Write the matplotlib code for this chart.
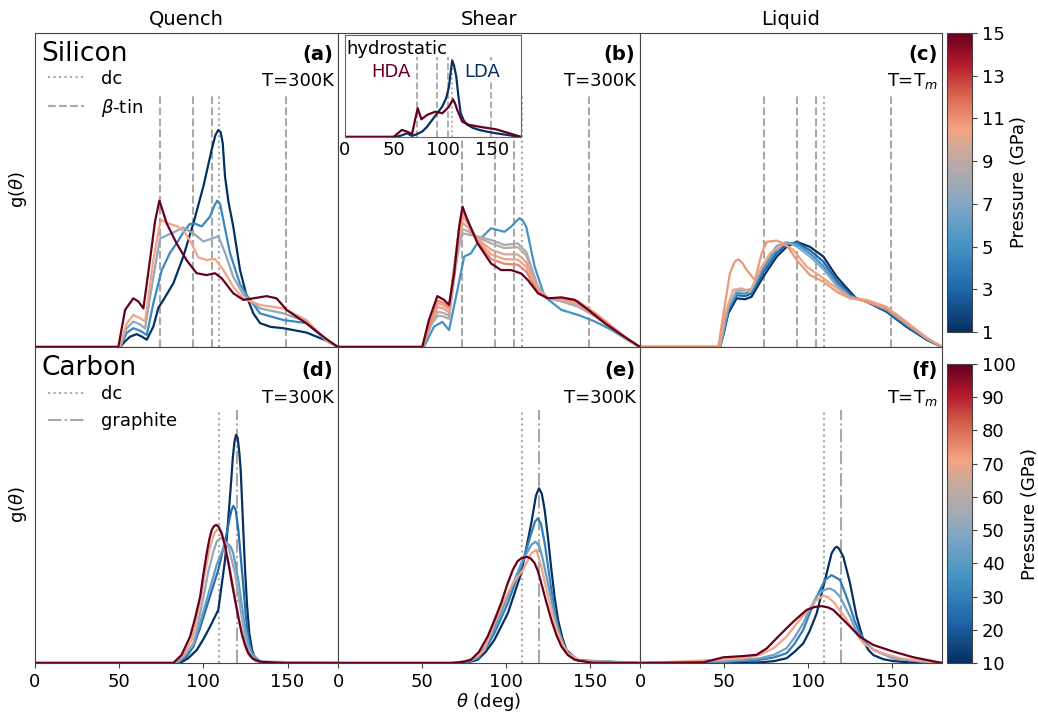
import matplotlib
matplotlib.use("Agg")
import matplotlib.pyplot as plt
from matplotlib.colors import LinearSegmentedColormap, Normalize
from matplotlib.cm import ScalarMappable
from matplotlib.lines import Line2D

# reference angles (deg)
btin_angles = [74.0, 93.8, 105.0, 149.4]
dc_angle = 109.47
graphite_angle = 120.0

# ---- Silicon, quench (a) ----
a_press = [1, 4.5, 7.5, 10.5, 15]
a1_th = [0, 50.5, 53.5, 56.5, 60.4, 63.5, 66.4, 70.3, 73.3, 76.3, 82.2, 88.1, 94.1, 100.0, 104.9, 107.2, 108.9, 110.3, 111.5, 112.9, 115.0, 117.8, 121.8, 125.8, 129.7, 133.7, 140.0, 147.5, 161.3, 173.2, 180]
a1_g = [0, 0, 0.018, 0.033, 0.041, 0.033, 0.023, 0.065, 0.125, 0.150, 0.203, 0.288, 0.394, 0.511, 0.627, 0.675, 0.691, 0.684, 0.650, 0.542, 0.460, 0.383, 0.245, 0.161, 0.107, 0.076, 0.064, 0.060, 0.046, 0.020, 0]
a4_th = [0, 50.5, 54.5, 58.4, 62.4, 66.4, 70.3, 75.3, 80.2, 84.1, 88.1, 92.0, 95.0, 99.0, 103.9, 106.5, 108.3, 110.0, 111.9, 115.8, 121.8, 125.8, 133.7, 147.5, 161.3, 173.2, 180]
a4_g = [0, 0, 0.045, 0.060, 0.052, 0.038, 0.139, 0.245, 0.300, 0.330, 0.365, 0.392, 0.393, 0.384, 0.415, 0.450, 0.466, 0.455, 0.404, 0.300, 0.200, 0.165, 0.107, 0.086, 0.076, 0.020, 0]
a8_th = [0, 50.5, 54.5, 58.4, 62.4, 65.4, 70.3, 74.3, 78.2, 84.1, 88.1, 94.1, 100.0, 104.9, 108.9, 112.9, 117.8, 123.8, 133.7, 147.5, 161.3, 173.2, 180]
a8_g = [0, 0, 0.060, 0.081, 0.072, 0.059, 0.223, 0.346, 0.355, 0.370, 0.380, 0.362, 0.336, 0.345, 0.353, 0.300, 0.223, 0.166, 0.123, 0.107, 0.081, 0.020, 0]
a11_th = [0, 50.0, 54.5, 58.4, 62.4, 65.4, 70.3, 74.3, 75.3, 80.2, 85.0, 89.0, 93.0, 97.0, 102.0, 107.0, 111.9, 117.8, 123.8, 133.7, 147.5, 161.3, 173.2, 180]
a11_g = [0, 0, 0.075, 0.102, 0.092, 0.081, 0.277, 0.395, 0.404, 0.392, 0.383, 0.365, 0.330, 0.285, 0.277, 0.280, 0.245, 0.192, 0.154, 0.134, 0.123, 0.086, 0.020, 0]
a15_th = [0, 49.5, 53.5, 58.4, 61.4, 64.4, 68.3, 71.3, 73.9, 75.5, 78.2, 84.1, 90.0, 96.0, 101.9, 106.9, 110.9, 117.8, 123.8, 129.7, 137.6, 143.5, 149.5, 161.3, 173.2, 180]
a15_g = [0, 0, 0.118, 0.155, 0.145, 0.123, 0.277, 0.400, 0.466, 0.440, 0.394, 0.330, 0.277, 0.235, 0.229, 0.235, 0.219, 0.171, 0.150, 0.155, 0.162, 0.155, 0.118, 0.075, 0.025, 0]

# ---- Silicon, shear (b) ----
b_press = [5, 8.3, 9.0, 9.8, 10.5, 11.2, 15]
b5_th = [0, 51.2, 57.2, 62.2, 66.2, 71.2, 75.2, 79.2, 84.2, 91.2, 99.2, 103.2, 106.5, 108.2, 110.2, 112.2, 117.2, 123.2, 133.2, 143.2, 153.2, 163.2, 172, 180]
b5_g = [0, 0, 0.065, 0.080, 0.054, 0.182, 0.288, 0.298, 0.341, 0.378, 0.367, 0.383, 0.402, 0.410, 0.402, 0.383, 0.256, 0.160, 0.118, 0.102, 0.081, 0.054, 0.024, 0]
b_mid_th = [0, 50.5, 55.5, 59.5, 63, 66.2, 70, 72.5, 74.5, 77.5, 83.2, 91.2, 99.2, 107.2, 112.2, 119.2, 125.2, 133.2, 143.2, 153.2, 163.2, 172, 180]
b8_g = [0, 0, 0.070, 0.100, 0.097, 0.090, 0.250, 0.330, 0.362, 0.358, 0.352, 0.341, 0.325, 0.330, 0.303, 0.192, 0.155, 0.145, 0.128, 0.097, 0.060, 0.025, 0]
b9_g = [0, 0, 0.075, 0.112, 0.108, 0.100, 0.260, 0.345, 0.375, 0.368, 0.350, 0.330, 0.315, 0.318, 0.292, 0.188, 0.155, 0.148, 0.131, 0.099, 0.061, 0.025, 0]
b10_g = [0, 0, 0.080, 0.128, 0.122, 0.110, 0.270, 0.360, 0.395, 0.380, 0.345, 0.310, 0.295, 0.295, 0.270, 0.182, 0.155, 0.152, 0.135, 0.101, 0.062, 0.026, 0]
b10b_g = [0, 0, 0.082, 0.140, 0.132, 0.120, 0.280, 0.375, 0.415, 0.392, 0.340, 0.295, 0.280, 0.278, 0.255, 0.177, 0.155, 0.155, 0.140, 0.105, 0.064, 0.027, 0]
b11_g = [0, 0, 0.084, 0.148, 0.140, 0.127, 0.290, 0.390, 0.430, 0.400, 0.335, 0.280, 0.265, 0.262, 0.240, 0.174, 0.155, 0.156, 0.145, 0.108, 0.066, 0.028, 0]
b15_th = [0, 50.2, 54.2, 59.2, 63.2, 66.2, 69.2, 72.2, 74.2, 77.2, 83.2, 91.2, 97.2, 103.2, 109.2, 113.2, 119.2, 125.2, 133.2, 141.2, 149.2, 159.2, 169.2, 180]
b15_g = [0, 0, 0.086, 0.162, 0.150, 0.134, 0.234, 0.383, 0.447, 0.404, 0.330, 0.266, 0.245, 0.245, 0.234, 0.213, 0.171, 0.155, 0.158, 0.150, 0.118, 0.075, 0.038, 0]

# inset of (b): hydrostatic HDA / LDA
lda_th = [0, 51.4, 58.3, 63.4, 68.6, 73.0, 78.9, 84.0, 89.2, 94.5, 99.5, 103.5, 106.4, 108.3, 109.7, 111.5, 113.8, 116.0, 118.3, 121.5, 125.2, 131.0, 137.2, 145.0, 154.3, 167.0, 180]
lda_g = [0, 0, 0.016, 0.036, 0.010, 0.025, 0.052, 0.100, 0.167, 0.235, 0.297, 0.380, 0.493, 0.650, 0.748, 0.700, 0.591, 0.400, 0.232, 0.160, 0.118, 0.088, 0.069, 0.052, 0.036, 0.018, 0]
hda_th = [0, 49.7, 54.0, 58.3, 63.4, 68.6, 72.0, 74.4, 76.5, 78.2, 84.0, 92.6, 99.5, 106.4, 110.4, 112.5, 114.8, 119.9, 126.8, 140.5, 154.3, 168.0, 180]
hda_g = [0, 0, 0.035, 0.069, 0.052, 0.029, 0.180, 0.281, 0.220, 0.173, 0.216, 0.248, 0.232, 0.297, 0.369, 0.330, 0.265, 0.150, 0.118, 0.095, 0.075, 0.036, 0]

# ---- Silicon, liquid (c) ----
c_press = [1, 3, 5, 7, 10.3, 10.8]
c_th = [0, 47.7, 50.0, 52.6, 57.6, 62.6, 66.5, 73.5, 81.5, 87.4, 93.4, 101.3, 109.3, 117.2, 125.2, 128.9, 135.1, 147.0, 158.9, 170.8, 180]
c1_g = [0, 0, 0.045, 0.107, 0.155, 0.152, 0.160, 0.224, 0.288, 0.319, 0.335, 0.319, 0.288, 0.224, 0.176, 0.155, 0.144, 0.112, 0.064, 0.023, 0]
c3_g = [0, 0, 0.050, 0.115, 0.165, 0.162, 0.170, 0.238, 0.300, 0.327, 0.333, 0.308, 0.272, 0.212, 0.168, 0.155, 0.144, 0.114, 0.067, 0.024, 0]
c5_g = [0, 0, 0.055, 0.122, 0.172, 0.170, 0.178, 0.250, 0.312, 0.332, 0.328, 0.298, 0.258, 0.202, 0.163, 0.155, 0.145, 0.118, 0.071, 0.026, 0]
c7_g = [0, 0, 0.058, 0.128, 0.180, 0.180, 0.185, 0.262, 0.322, 0.334, 0.320, 0.288, 0.248, 0.195, 0.160, 0.155, 0.146, 0.121, 0.074, 0.027, 0]
c10_th = [0, 47.2, 50.7, 55.6, 60.6, 65.5, 71.5, 77.5, 85.4, 91.4, 99.3, 109.3, 117.2, 125.2, 135.1, 147.0, 158.9, 170.8, 180]
c10_g = [0, 0, 0.107, 0.182, 0.187, 0.176, 0.245, 0.298, 0.328, 0.309, 0.256, 0.219, 0.187, 0.155, 0.150, 0.128, 0.080, 0.030, 0]
c11_th = [0, 46.7, 50.7, 53.6, 56.5, 58.6, 61.0, 63.6, 68.5, 72.5, 75.5, 81.5, 87.4, 93.4, 101.3, 109.3, 117.2, 123.2, 135.1, 147.0, 158.9, 170.8, 180]
c11_g = [0, 0, 0.139, 0.235, 0.272, 0.279, 0.268, 0.245, 0.213, 0.298, 0.335, 0.339, 0.325, 0.277, 0.229, 0.208, 0.176, 0.160, 0.144, 0.123, 0.075, 0.029, 0]

# ---- Carbon, quench (d) ----
d_press = [10, 25, 42, 52, 70, 100]
d10_th = [0, 86.2, 91.0, 96.1, 100.0, 104.0, 108.9, 112.9, 116.3, 117.5, 118.5, 119.4, 120.4, 121.4, 122.2, 123.5, 124.8, 126.0, 127.3, 129.0, 130.7, 134.0, 137.6, 180]
d10_g = [0, 0, 0.015, 0.041, 0.075, 0.115, 0.168, 0.326, 0.558, 0.650, 0.700, 0.722, 0.712, 0.665, 0.611, 0.450, 0.294, 0.180, 0.094, 0.040, 0.015, 0.004, 0, 0]
d25_th = [0, 85.0, 90.0, 94.1, 98.0, 102.0, 108.9, 113.9, 115.5, 116.8, 117.8, 119.2, 120.8, 122.3, 123.8, 125.2, 126.7, 128.5, 130.7, 136.0, 180]
d25_g = [0, 0, 0.020, 0.052, 0.110, 0.178, 0.295, 0.410, 0.455, 0.485, 0.497, 0.485, 0.421, 0.330, 0.242, 0.150, 0.083, 0.040, 0.015, 0, 0]
d42_th = [0, 84.0, 89.0, 94.1, 98.0, 102.0, 107.9, 111.9, 113.5, 114.9, 116.3, 117.8, 120.8, 122.8, 124.8, 126.8, 128.7, 134.0, 180]
d42_g = [0, 0, 0.022, 0.060, 0.125, 0.200, 0.310, 0.363, 0.373, 0.376, 0.368, 0.347, 0.263, 0.185, 0.115, 0.062, 0.031, 0.003, 0]
d52_th = [0, 83.0, 89.0, 94.1, 97.0, 100.1, 103.0, 106.0, 108.0, 110.0, 112.0, 114.9, 118.8, 120.8, 122.8, 124.7, 126.7, 131.0, 180]
d52_g = [0, 0, 0.025, 0.062, 0.130, 0.210, 0.290, 0.353, 0.385, 0.395, 0.392, 0.369, 0.284, 0.215, 0.146, 0.085, 0.041, 0.005, 0]
d70_th = [0, 82.5, 88.0, 93.1, 96.0, 99.0, 101.5, 104.0, 106.5, 108.3, 110.0, 111.9, 115.9, 119.8, 121.8, 123.8, 125.7, 127.7, 133.0, 180]
d70_g = [0, 0, 0.025, 0.073, 0.140, 0.221, 0.300, 0.368, 0.410, 0.423, 0.418, 0.389, 0.295, 0.178, 0.120, 0.073, 0.040, 0.020, 0.003, 0]
d100_th = [0, 82.2, 87.0, 92.1, 95.0, 98.1, 100.0, 102.0, 103.5, 105.0, 106.3, 107.6, 109.0, 110.9, 112.9, 114.9, 116.8, 118.8, 120.8, 122.8, 124.7, 126.7, 129.5, 133.7, 149.5, 180]
d100_g = [0, 0, 0.025, 0.083, 0.140, 0.210, 0.280, 0.347, 0.390, 0.421, 0.433, 0.437, 0.432, 0.411, 0.370, 0.316, 0.258, 0.200, 0.145, 0.094, 0.058, 0.031, 0.013, 0.004, 0, 0]

# ---- Carbon, shear (e) ----
e_press = [10, 30, 42, 70, 100]
e10_th = [0, 71.2, 78.0, 83.2, 88.0, 93.2, 101.2, 109.2, 115.2, 118.0, 119.8, 121.5, 123.2, 125.2, 127.2, 129.2, 131.2, 133.7, 136.2, 143.2, 180]
e10_g = [0, 0, 0.003, 0.010, 0.035, 0.073, 0.157, 0.284, 0.442, 0.530, 0.553, 0.535, 0.484, 0.395, 0.294, 0.205, 0.136, 0.080, 0.041, 0.007, 0]
e30_th = [0, 70, 78.0, 83.2, 88.0, 93.2, 101.2, 109.2, 115.2, 117.5, 119.2, 121.0, 123.2, 125.2, 127.2, 129.2, 131.2, 133.7, 136.2, 143.2, 180]
e30_g = [0, 0, 0.004, 0.014, 0.045, 0.094, 0.189, 0.305, 0.410, 0.448, 0.458, 0.440, 0.379, 0.305, 0.231, 0.165, 0.115, 0.070, 0.036, 0.008, 0]
e42_th = [0, 70, 78.0, 83.2, 88.0, 93.2, 101.2, 109.2, 115.2, 117.7, 120.0, 122.2, 124.7, 127.2, 129.2, 131.2, 133.7, 136.2, 143.2, 180]
e42_g = [0, 0, 0.005, 0.018, 0.055, 0.110, 0.210, 0.315, 0.374, 0.384, 0.370, 0.326, 0.262, 0.199, 0.148, 0.104, 0.066, 0.036, 0.009, 0]
e70_th = [0, 70, 80, 84.0, 87.2, 90.0, 93.2, 99.2, 104.2, 110.2, 115.2, 118.2, 121.2, 123.7, 126.2, 128.7, 131.2, 134.2, 137.2, 145, 180]
e70_g = [0, 0, 0.012, 0.025, 0.041, 0.080, 0.126, 0.199, 0.252, 0.294, 0.347, 0.358, 0.305, 0.245, 0.189, 0.138, 0.094, 0.058, 0.031, 0.006, 0]
e100_th = [0, 67.2, 75.0, 79.2, 84.0, 89.2, 93.2, 97.2, 101.0, 104.2, 107.0, 109.2, 112.8, 115.0, 117.2, 119.2, 121.2, 124.2, 127.2, 130.2, 133.2, 137.0, 141.2, 151.2, 180]
e100_g = [0, 0, 0.004, 0.010, 0.035, 0.084, 0.135, 0.189, 0.250, 0.295, 0.322, 0.331, 0.336, 0.330, 0.316, 0.290, 0.252, 0.192, 0.136, 0.088, 0.052, 0.025, 0.010, 0.001, 0]

# ---- Carbon, liquid (f) ----
f_press = [10, 30, 45, 70, 100]
f10_th = [0, 71.5, 80.0, 87.4, 92.0, 97.3, 101.0, 105.3, 110.3, 114.2, 116.0, 117.2, 118.6, 121.2, 125.2, 129.1, 133.1, 136.0, 139.1, 145.0, 151.0, 162.9, 180]
f10_g = [0, 0.002, 0.006, 0.015, 0.035, 0.062, 0.100, 0.157, 0.263, 0.347, 0.363, 0.368, 0.362, 0.336, 0.252, 0.147, 0.073, 0.042, 0.025, 0.012, 0.006, 0.001, 0]
f30_th = [0, 51.7, 71.5, 80.0, 87.4, 92.0, 97.3, 101.0, 105.3, 110.3, 114.2, 119.2, 122.0, 125.2, 128.0, 131.1, 135.0, 139.1, 151.0, 170.8, 180]
f30_g = [0, 0.004, 0.010, 0.018, 0.031, 0.060, 0.105, 0.155, 0.210, 0.263, 0.278, 0.263, 0.225, 0.178, 0.132, 0.094, 0.062, 0.042, 0.015, 0.002, 0]
f45_th = [0, 51.7, 71.5, 80.0, 87.4, 92.0, 97.3, 101.0, 105.3, 109.3, 113.2, 116.0, 119.2, 122.0, 125.2, 128.0, 131.1, 135.0, 139.1, 151.0, 170.8, 180]
f45_g = [0, 0.006, 0.015, 0.026, 0.047, 0.080, 0.126, 0.170, 0.210, 0.231, 0.236, 0.228, 0.210, 0.180, 0.147, 0.112, 0.083, 0.058, 0.042, 0.015, 0.003, 0]
f70_th = [0, 47.7, 61.6, 71.5, 80.0, 87.4, 93.0, 99.3, 105.3, 109.3, 112.0, 115.2, 121.2, 127.1, 133.1, 141.1, 155.0, 170.8, 180]
f70_g = [0, 0.010, 0.015, 0.026, 0.048, 0.084, 0.122, 0.163, 0.199, 0.213, 0.208, 0.194, 0.152, 0.105, 0.063, 0.036, 0.015, 0.004, 0]
f100_th = [0, 37.7, 43.7, 49.7, 61.6, 69.5, 75.5, 83.4, 91.4, 99.3, 104.0, 108.3, 112.0, 115.2, 123.2, 131.1, 139.1, 151.0, 163.0, 180]
f100_g = [0, 0.002, 0.010, 0.018, 0.022, 0.026, 0.046, 0.089, 0.131, 0.168, 0.177, 0.180, 0.176, 0.168, 0.126, 0.083, 0.057, 0.036, 0.018, 0]

# blue -> grey -> red pressure map
cmap = LinearSegmentedColormap.from_list("press", [
    (0.0, "#053061"), (0.143, "#2166ac"), (0.286, "#4393c3"), (0.43, "#82a8c6"),
    (0.5, "#a4a9b3"), (0.57, "#b9aaa7"), (0.68, "#f4a582"), (0.8, "#d6604d"),
    (0.9, "#b2182b"), (1.0, "#67001f")])
si_norm = Normalize(1, 15)
c_norm = Normalize(10, 100)

REF = "#a8a8a8"
SPINE = "#444444"

fig = plt.figure(figsize=(10.38, 7.14), dpi=100)
W, H = 1038, 714


def px_axes(x0, y0, x1, y1):
    return fig.add_axes([x0 / W, 1 - y1 / H, (x1 - x0) / W, (y1 - y0) / H])


ax_a = px_axes(35, 33, 338, 347)
ax_b = px_axes(338, 33, 640, 347)
ax_c = px_axes(640, 33, 942, 347)
ax_d = px_axes(35, 347, 338, 663)
ax_e = px_axes(338, 347, 640, 663)
ax_f = px_axes(640, 347, 942, 663)
cax1 = px_axes(947, 33, 972, 332)
cax2 = px_axes(947, 364, 972, 663)

panels = [
    (ax_a, si_norm, list(zip(a_press, [a1_th, a4_th, a8_th, a11_th, a15_th], [a1_g, a4_g, a8_g, a11_g, a15_g])), "(a)", "T=300K"),
    (ax_b, si_norm, list(zip(b_press, [b5_th, b_mid_th, b_mid_th, b_mid_th, b_mid_th, b_mid_th, b15_th],
                             [b5_g, b8_g, b9_g, b10_g, b10b_g, b11_g, b15_g])), "(b)", "T=300K"),
    (ax_c, si_norm, list(zip(c_press, [c_th, c_th, c_th, c_th, c10_th, c11_th], [c1_g, c3_g, c5_g, c7_g, c10_g, c11_g])), "(c)", "T=T$_m$"),
    (ax_d, c_norm, list(zip(d_press, [d10_th, d25_th, d42_th, d52_th, d70_th, d100_th],
                            [d10_g, d25_g, d42_g, d52_g, d70_g, d100_g])), "(d)", "T=300K"),
    (ax_e, c_norm, list(zip(e_press, [e10_th, e30_th, e42_th, e70_th, e100_th], [e10_g, e30_g, e42_g, e70_g, e100_g])), "(e)", "T=300K"),
    (ax_f, c_norm, list(zip(f_press, [f10_th, f30_th, f45_th, f70_th, f100_th], [f10_g, f30_g, f45_g, f70_g, f100_g])), "(f)", "T=T$_m$"),
]

for i, (ax, norm, curves, tag, temp) in enumerate(panels):
    top = i < 3
    if top:
        for a in btin_angles:
            ax.axvline(a, ymax=0.8, color=REF, ls="--", lw=1.5)
        ax.axvline(dc_angle, ymax=0.8, color=REF, ls=":", lw=1.5)
    else:
        ax.axvline(dc_angle, ymax=0.8, color=REF, ls=":", lw=1.5)
        ax.axvline(graphite_angle, ymax=0.8, color=REF, ls="-.", lw=1.5)
    for p, th, g in curves:
        ax.plot(th, g, color=cmap(norm(p)), lw=1.6)
    ax.set_xlim(0, 180)
    ax.set_ylim(0, 1)
    ax.set_yticks([])
    ax.set_xticks([0, 50, 100, 150])
    if top:
        ax.tick_params(axis="x", length=0, labelbottom=False)
    else:
        ax.tick_params(axis="x", labelsize=13, color=SPINE)
    for s in ax.spines.values():
        s.set_color(SPINE)
    ty = 0.933 if top else 0.927
    ax.text(0.985, ty, tag, transform=ax.transAxes, ha="right", va="center",
            fontsize=14, fontweight="bold")
    ax.text(0.985, ty - 0.087, temp, transform=ax.transAxes, ha="right", va="center", fontsize=13)

for ax, title in zip([ax_a, ax_b, ax_c], ["Quench", "Shear", "Liquid"]):
    ax.set_title(title, fontsize=14)

ax_a.text(0.02, 0.933, "Silicon", transform=ax_a.transAxes, va="center", fontsize=19)
ax_d.text(0.02, 0.934, "Carbon", transform=ax_d.transAxes, va="center", fontsize=19)
ax_a.set_ylabel(r"g($\theta$)", fontsize=13)
ax_d.set_ylabel(r"g($\theta$)", fontsize=13)
ax_e.set_xlabel(r"$\theta$ (deg)", fontsize=13, labelpad=0)

si_handles = [Line2D([], [], color=REF, ls=":", lw=1.5), Line2D([], [], color=REF, ls="--", lw=1.5)]
ax_a.legend(si_handles, ["dc", r"$\beta$-tin"], loc="upper left", bbox_to_anchor=(0.02, 0.906),
            borderaxespad=0, frameon=False, fontsize=13, handletextpad=0.9)
c_handles = [Line2D([], [], color=REF, ls=":", lw=1.5), Line2D([], [], color=REF, ls="-.", lw=1.5)]
ax_d.legend(c_handles, ["dc", "graphite"], loc="upper left", bbox_to_anchor=(0.02, 0.903),
            borderaxespad=0, frameon=False, fontsize=13, handletextpad=0.9)

# inset: hydrostatic reference
ins = ax_b.inset_axes([0.023, 0.669, 0.583, 0.325])
for a in btin_angles:
    ins.axvline(a, ymax=0.78, color=REF, ls="--", lw=1.3)
ins.axvline(dc_angle, ymax=0.78, color=REF, ls=":", lw=1.3)
ins.plot(lda_th, lda_g, color=cmap(si_norm(1)), lw=1.6)
ins.plot(hda_th, hda_g, color=cmap(si_norm(15)), lw=1.6)
ins.set_xlim(0, 180)
ins.set_ylim(0, 1)
ins.set_yticks([])
ins.set_xticks([0, 50, 100, 150])
ins.tick_params(axis="x", labelsize=13, length=0, pad=3)
for s in ins.spines.values():
    s.set_color("#666666")
ins.text(0.01, 0.86, "hydrostatic", transform=ins.transAxes, va="center", fontsize=13)
ins.text(0.263, 0.64, "HDA", transform=ins.transAxes, ha="center", va="center", fontsize=13,
         color=cmap(si_norm(15)))
ins.text(0.777, 0.64, "LDA", transform=ins.transAxes, ha="center", va="center", fontsize=13,
         color=cmap(si_norm(1)), bbox=dict(fc="white", ec="none", pad=0.5), zorder=5)

cb1 = fig.colorbar(ScalarMappable(norm=si_norm, cmap=cmap), cax=cax1, ticks=list(range(1, 16, 2)))
cb2 = fig.colorbar(ScalarMappable(norm=c_norm, cmap=cmap), cax=cax2, ticks=list(range(10, 101, 10)))
for cb in (cb1, cb2):
    cb.set_label("Pressure (GPa)", fontsize=13)
    cb.ax.tick_params(labelsize=13, color=SPINE)
    cb.outline.set_edgecolor(SPINE)

fig.savefig("out.png", dpi=100)
